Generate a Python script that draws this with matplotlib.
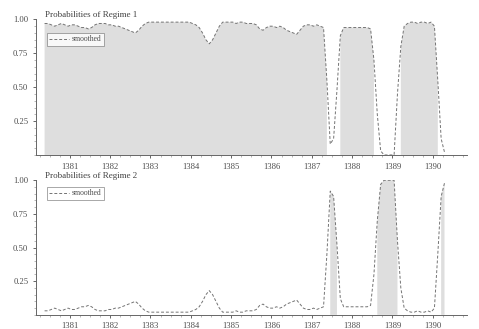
import numpy as np
import matplotlib
matplotlib.use("Agg")
import matplotlib.pyplot as plt
from matplotlib.ticker import AutoMinorLocator

plt.rcParams['font.family'] = ['Liberation Serif', 'DejaVu Serif']

# monthly dates, starting 1380/05
start_year = 1380 + 4.5 / 12
year_ticks = [1381, 1382, 1383, 1384, 1385, 1386, 1387, 1388, 1389, 1390]

# smoothed probability of regime 2
p_regime2 = [
    0.03, 0.03, 0.04, 0.05, 0.04, 0.03, 0.04, 0.05, 0.04, 0.04,
    0.05, 0.06, 0.06, 0.07, 0.06, 0.04, 0.03, 0.03, 0.03, 0.04,
    0.04, 0.05, 0.05, 0.06, 0.07, 0.08, 0.09, 0.10, 0.08, 0.05,
    0.03, 0.02, 0.02, 0.02, 0.02, 0.02, 0.02, 0.02, 0.02, 0.02,
    0.02, 0.02, 0.02, 0.02, 0.03, 0.04, 0.06, 0.10, 0.15, 0.18,
    0.15, 0.10, 0.05, 0.02, 0.02, 0.02, 0.02, 0.03, 0.02, 0.02,
    0.03, 0.03, 0.03, 0.04, 0.07, 0.08, 0.06, 0.05, 0.05, 0.06,
    0.05, 0.06, 0.08, 0.09, 0.10, 0.11, 0.08, 0.05, 0.04, 0.04,
    0.05, 0.04, 0.05, 0.06, 0.45, 0.92, 0.88, 0.52, 0.12, 0.06,
    0.06, 0.06, 0.06, 0.06, 0.06, 0.06, 0.06, 0.07, 0.30, 0.70,
    0.97, 1.00, 1.00, 1.00, 1.00, 0.55, 0.20, 0.05, 0.03, 0.02,
    0.02, 0.03, 0.02, 0.02, 0.03, 0.02, 0.05, 0.45, 0.88, 0.98,
]
p_regime2 = np.array(p_regime2)
p_regime1 = 1 - p_regime2
t = start_year + np.arange(len(p_regime2)) / 12

fig = plt.figure(figsize=(4.79, 3.29), dpi=100)
ax1 = fig.add_axes([0.075, 0.529, 0.9, 0.412])
ax2 = fig.add_axes([0.075, 0.043, 0.9, 0.409])

panels = [
    (ax1, p_regime1, "Probabilities of Regime 1", 0.90),
    (ax2, p_regime2, "Probabilities of Regime 2", 0.95),
]

for ax, p, title, leg_y in panels:
    ax.fill_between(t, 0, p, where=p > 0.5, color="0.87", lw=0)
    ax.plot(t, p, color="0.45", lw=0.7, ls=(0, (3, 2)), label="smoothed")
    ax.set_xlim(1380.16, 1390.85)
    ax.set_ylim(0, 1)
    ax.set_xticks(year_ticks)
    ax.set_xticklabels([str(y) for y in year_ticks])
    ax.set_yticks([0.25, 0.5, 0.75, 1.0])
    ax.set_yticklabels(["0.25", "0.50", "0.75", "1.00"])
    ax.xaxis.set_minor_locator(AutoMinorLocator(4))
    ax.yaxis.set_minor_locator(AutoMinorLocator(5))
    ax.tick_params(labelsize=6.2, colors="0.3", length=2.5, width=0.6, pad=3)
    ax.tick_params(which="minor", length=1.2, width=0.4, colors="0.5")
    for s in ["top", "right"]:
        ax.spines[s].set_visible(False)
    for s in ["left", "bottom"]:
        ax.spines[s].set_color("0.4")
        ax.spines[s].set_linewidth(0.7)
    ax.set_title(title, loc="left", fontsize=6.5, color="0.25", pad=1, x=0.021)
    leg = ax.legend(loc="upper left", bbox_to_anchor=(0.025, leg_y), borderaxespad=0,
                    fontsize=5.5, fancybox=False, handlelength=2.6, borderpad=0.3,
                    handletextpad=0.4)
    leg.get_frame().set_edgecolor("0.5")
    leg.get_frame().set_linewidth(0.6)
    for txt in leg.get_texts():
        txt.set_color("0.3")

fig.savefig("out.png", dpi=100)
